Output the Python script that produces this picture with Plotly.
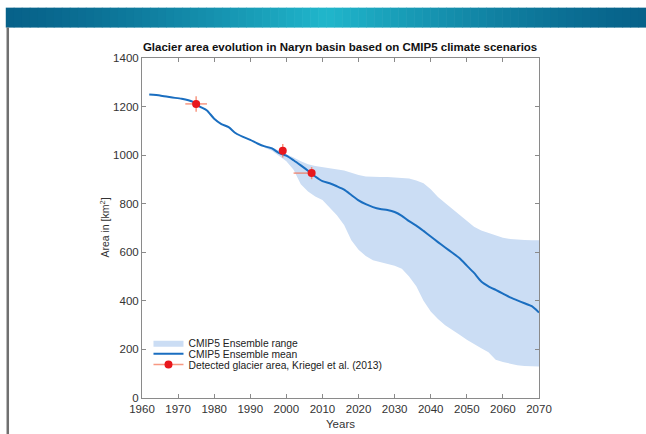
import plotly.graph_objects as go

# ---------------- data ----------------
mean_years = [1962, 1965, 1968, 1971, 1974, 1976, 1978, 1980, 1982, 1984, 1986, 1988,
              1990, 1992, 1994, 1996, 1998, 2000, 2002, 2004, 2006, 2008, 2010, 2012,
              2014, 2016, 2018, 2020, 2022, 2024, 2026, 2028, 2030, 2032, 2034, 2036,
              2038, 2040, 2042, 2044, 2046, 2048, 2050, 2052, 2054, 2056, 2058, 2060,
              2062, 2064, 2066, 2068, 2070]
mean_area = [1250, 1246, 1238, 1232, 1220, 1200, 1184, 1150, 1128, 1115, 1090, 1075,
             1063, 1048, 1036, 1028, 1008, 998, 979, 958, 936, 912, 893, 884,
             872, 858, 836, 814, 798, 786, 778, 774, 766, 750, 728, 710,
             688, 665, 642, 620, 598, 575, 545, 515, 480, 460, 445, 430,
             414, 402, 390, 378, 352]

band_years = [1994, 1996, 1998, 2000, 2002, 2004, 2006, 2008, 2010, 2012, 2014, 2016,
              2018, 2020, 2022, 2024, 2026, 2028, 2030, 2032, 2034, 2036, 2038, 2040,
              2042, 2044, 2046, 2048, 2050, 2052, 2054, 2056, 2058, 2060, 2062, 2064,
              2066, 2068, 2070]
band_upper = [1040, 1032, 1018, 1005, 990, 975, 962, 955, 950, 946, 942, 937,
              928, 918, 912, 910, 910, 910, 909, 907, 904, 896, 884, 860,
              828, 803, 778, 752, 728, 705, 690, 680, 670, 660, 655, 652,
              651, 650, 650]
band_lower = [1030, 1018, 995, 975, 940, 880, 850, 830, 815, 785, 752, 712,
              650, 610, 585, 567, 558, 552, 545, 532, 500, 460, 400, 356,
              325, 300, 280, 260, 240, 222, 205, 188, 158, 148, 140, 135,
              132, 130, 130]

obs_years = [1975, 1999, 2007]
obs_area = [1211, 1018, 926]
obs_err_y = [32, 28, 25]
obs_err_x_plus = [3, 0.3, 0.5]
obs_err_x_minus = [3, 0.3, 5]

x_ticks = list(range(1960, 2071, 10))
y_ticks = list(range(0, 1401, 200))

title_text = "Glacier area evolution in Naryn basin based on CMIP5 climate scenarios"
legend_labels = ["CMIP5 Ensemble range", "CMIP5 Ensemble mean",
                 "Detected glacier area, Kriegel et al. (2013)"]

# ---------------- layout geometry (pixels) ----------------
W, H = 646, 434
L, R, T, B = 141.5, 539.3, 57.5, 398.5
PW, PH = R - L, B - T


def px(xp):
    return (xp - L) / PW


def py(yp):
    return (B - yp) / PH


FONT = "Liberation Sans, Arial, Helvetica, sans-serif"
BAND = "#cbddf4"
LINE = "#1a6ec0"
RED = "#e8171c"
ERR = "rgba(244,112,82,0.72)"
AX = "#8a8a8a"

fig = go.Figure()

fig.add_trace(go.Scatter(
    x=band_years + band_years[::-1],
    y=band_upper + band_lower[::-1],
    fill="toself", fillcolor=BAND, mode="lines",
    line=dict(width=0, color=BAND), name=legend_labels[0], legend="legend2",
    hoverinfo="skip", showlegend=True))

fig.add_trace(go.Scatter(
    x=mean_years, y=mean_area, mode="lines",
    line=dict(color=LINE, width=2, shape="spline", smoothing=0.6),
    name=legend_labels[1], legend="legend3"))

fig.add_trace(go.Scatter(
    x=obs_years, y=obs_area, mode="markers",
    marker=dict(color=RED, size=8),
    error_y=dict(type="data", array=obs_err_y, color=ERR, thickness=1.5, width=0),
    error_x=dict(type="data", array=obs_err_x_plus, arrayminus=obs_err_x_minus,
                 symmetric=False, color=ERR, thickness=1.5, width=0),
    name=legend_labels[2], showlegend=False))

# legend-only entry showing marker with its error-bar line
fig.add_trace(go.Scatter(
    x=[None], y=[None], mode="lines+markers",
    marker=dict(color=RED, size=8), line=dict(color=ERR, width=1.5),
    name=legend_labels[2], legend="legend4", hoverinfo="skip"))

legend_common = dict(font=dict(family=FONT, size=10.3, color="#222"),
                     bgcolor="rgba(0,0,0,0)", borderwidth=0,
                     xanchor="left", yanchor="middle", itemwidth=30,
                     x=px(148))

axis_common = dict(showline=True, linecolor=AX, linewidth=1, mirror="ticks",
                   ticks="inside", ticklen=4, tickcolor=AX, tickwidth=1,
                   showgrid=False, zeroline=False,
                   tickfont=dict(family=FONT, size=11.5, color="#333"))

# decorative banner (gradient strips)
shapes = []
c_edge = (7, 98, 138)
c_mid = (32, 182, 203)
n = 80
bx0, bx1 = 5, 647
for i in range(n):
    t = i / (n - 1)
    f = 1 - abs(2 * t - 1)
    f = f ** 1.3
    col = tuple(int(round(c_edge[k] + (c_mid[k] - c_edge[k]) * f)) for k in range(3))
    xa = bx0 + (bx1 - bx0) * i / n
    xb = bx0 + (bx1 - bx0) * (i + 1) / n + 0.6
    shapes.append(dict(type="rect", xref="paper", yref="paper",
                       x0=px(xa), x1=px(xb), y0=py(27), y1=py(7),
                       fillcolor="rgb(%d,%d,%d)" % col, line=dict(width=0),
                       layer="above"))
shapes.append(dict(type="line", xref="paper", yref="paper",
                   x0=px(7), x1=px(7), y0=py(27), y1=py(435),
                   line=dict(color="#707070", width=2.5)))

fig.update_layout(
    width=W, height=H,
    margin=dict(l=L, r=W - R, t=T, b=H - B, pad=0),
    paper_bgcolor="white", plot_bgcolor="white",
    font=dict(family=FONT, size=11, color="#333"),
    showlegend=True,
    title=dict(text="<b>" + title_text + "</b>", x=px(340), xref="paper",
               xanchor="center", y=1 - 47 / H, yref="container",
               yanchor="middle",
               font=dict(family=FONT, size=11.5, color="#111")),
    xaxis=dict(range=[1960, 2070], tickvals=x_ticks, **axis_common),
    yaxis=dict(range=[0, 1400], tickvals=y_ticks, **axis_common),
    legend2=dict(y=py(343), **legend_common),
    legend3=dict(y=py(354), **legend_common),
    legend4=dict(y=py(365), **legend_common),
    shapes=shapes,
    annotations=[
        dict(text="Years", xref="paper", yref="paper", x=px(340), y=py(425),
             showarrow=False, xanchor="center", yanchor="middle",
             font=dict(family=FONT, size=11.5, color="#333")),
        dict(text="Area in [km<sup>2</sup>]", xref="paper", yref="paper",
             x=px(103), y=py(228), showarrow=False, textangle=-90,
             xanchor="center", yanchor="middle",
             font=dict(family=FONT, size=10.5, color="#333")),
    ],
)

fig.write_html("out.html",
               config={"displayModeBar": False},
               post_script="document.body.style.margin='0';"
                           "document.body.style.overflow='hidden';")
